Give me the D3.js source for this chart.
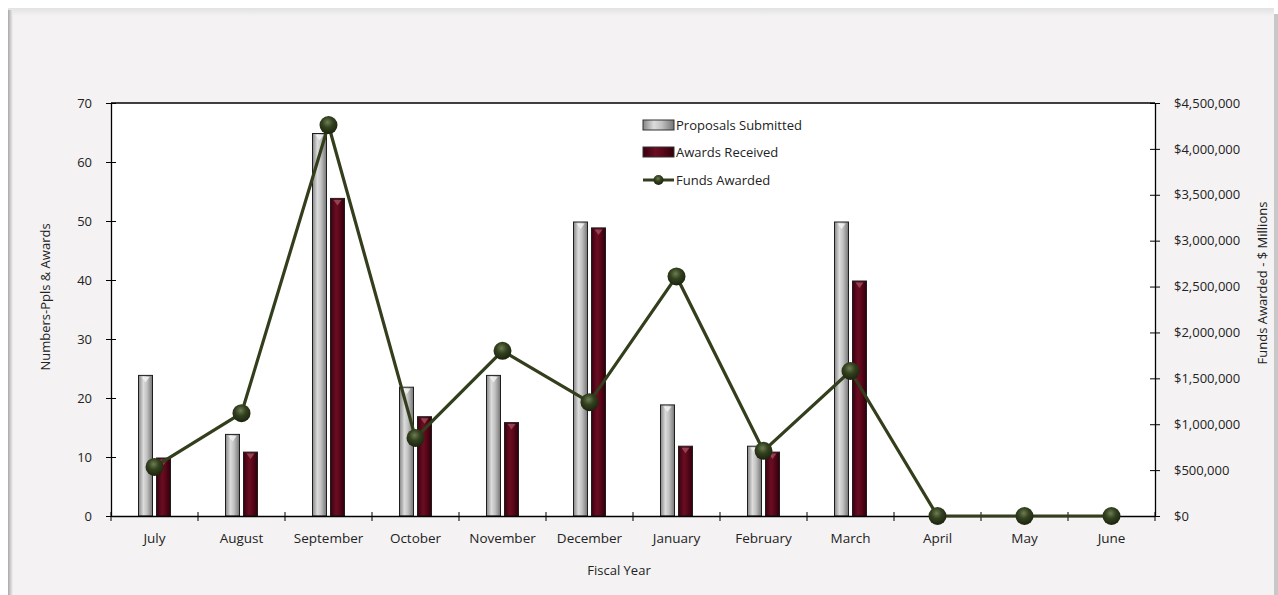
<!DOCTYPE html>
<html>
<head>
<meta charset="utf-8">
<script src="https://cdn.jsdelivr.net/npm/d3@7"></script>
<style>
  body { margin: 0; background: #fff; }
  svg { display: block; font-family: "Open Sans", "Noto Sans", sans-serif; }
  .tick text { font-size: 12.5px; fill: #222; }
</style>
</head>
<body>
<svg id="chart" width="1278" height="595"></svg>
<script>
// data
var months = ['July', 'August', 'September', 'October', 'November', 'December',
              'January', 'February', 'March', 'April', 'May', 'June'];
var proposals = [24, 14, 65, 22, 24, 50, 19, 12, 50, 0, 0, 0];
var awards = [10, 11, 54, 17, 16, 49, 12, 11, 40, 0, 0, 0];
var funds = [535000, 1120000, 4260000, 850000, 1800000, 1240000,
             2610000, 710000, 1580000, 0, 0, 0];
var leftTicks = [0, 10, 20, 30, 40, 50, 60, 70];
var rightTicks = [0, 500000, 1000000, 1500000, 2000000, 2500000,
                  3000000, 3500000, 4000000, 4500000];

var svg = d3.select('#chart');
var defs = svg.append('defs');

// frame / background
var frameGrad = defs.append('linearGradient').attr('id', 'leftEdge');
frameGrad.append('stop').attr('offset', '0%').attr('stop-color', '#a9a9a9');
frameGrad.append('stop').attr('offset', '100%').attr('stop-color', '#f4f2f3');
var topGrad = defs.append('linearGradient').attr('id', 'topEdge')
  .attr('x1', 0).attr('y1', 0).attr('x2', 0).attr('y2', 1);
topGrad.append('stop').attr('offset', '0%').attr('stop-color', '#e2e2e2');
topGrad.append('stop').attr('offset', '100%').attr('stop-color', '#f4f2f3');

svg.append('rect').attr('x', 8).attr('y', 8).attr('width', 1266).attr('height', 587)
  .attr('fill', '#f4f2f3');
svg.append('rect').attr('x', 8).attr('y', 8).attr('width', 1266).attr('height', 8)
  .attr('fill', 'url(#topEdge)');
svg.append('rect').attr('x', 8).attr('y', 10).attr('width', 5).attr('height', 585)
  .attr('fill', 'url(#leftEdge)');
svg.append('rect').attr('x', 1274).attr('y', 14).attr('width', 4).attr('height', 581)
  .attr('fill', '#c8c8c8');

// gradients for the bars and markers
function barGradient(id, stops) {
  var g = defs.append('linearGradient').attr('id', id);
  stops.forEach(function(s) {
    g.append('stop').attr('offset', s[0]).attr('stop-color', s[1]);
  });
}
barGradient('gradGray', [['0%', '#858585'], ['35%', '#dcdcdc'], ['60%', '#c2c2c2'], ['100%', '#757575']]);
barGradient('gradRed', [['0%', '#3a0010'], ['40%', '#6a0e22'], ['65%', '#5a0619'], ['100%', '#2e000b']]);

var ball = defs.append('radialGradient').attr('id', 'gradBall')
  .attr('cx', '45%').attr('cy', '35%').attr('r', '65%');
ball.append('stop').attr('offset', '0%').attr('stop-color', '#6d7d55');
ball.append('stop').attr('offset', '45%').attr('stop-color', '#34421f');
ball.append('stop').attr('offset', '100%').attr('stop-color', '#1a220e');

var plotLeft = 111, plotRight = 1155, plotTop = 103, plotBottom = 516;

var x = d3.scaleBand().domain(months).range([plotLeft, plotRight]).padding(0);
var yL = d3.scaleLinear().domain([0, 70]).range([plotBottom, plotTop]);
var yR = d3.scaleLinear().domain([0, 4500000]).range([plotBottom, plotTop]);

svg.append('rect').attr('x', plotLeft).attr('y', plotTop)
  .attr('width', plotRight - plotLeft).attr('height', plotBottom - plotTop).attr('fill', '#fff');

var barW = 14, gap = 4;

function drawBars(values, offset, fill, tipColor) {
  var items = values.map(function(v, i) { return { m: months[i], v: v }; })
    .filter(function(d) { return d.v > 0; });
  var g = svg.append('g').selectAll('g').data(items).enter().append('g');
  g.append('rect')
    .attr('x', function(d) { return x(d.m) + x.bandwidth() / 2 + offset; })
    .attr('y', function(d) { return yL(d.v) + 1; })
    .attr('width', barW)
    .attr('height', function(d) { return plotBottom - yL(d.v) - 1; })
    .attr('fill', fill)
    .attr('stroke', '#1e1e1e').attr('stroke-width', 1);
  g.append('path')
    .attr('d', function(d) {
      var bx = x(d.m) + x.bandwidth() / 2 + offset, by = yL(d.v) + 1;
      return 'M' + (bx + 3) + ',' + (by + 1.5) + 'L' + (bx + barW - 3) + ',' + (by + 1.5) +
        'L' + (bx + barW / 2) + ',' + (by + 7) + 'Z';
    })
    .attr('fill', tipColor).attr('opacity', 0.8);
}
drawBars(proposals, -barW - gap / 2, 'url(#gradGray)', '#f5f5f5');
drawBars(awards, gap / 2, 'url(#gradRed)', '#a0505e');

// axes
var gx = svg.append('g').attr('transform', 'translate(0,' + plotBottom + ')')
  .call(d3.axisBottom(x).tickSize(0).tickPadding(17));
gx.attr('font-family', null);
gx.select('.domain').attr('stroke', '#000').attr('stroke-width', 1.3);
gx.selectAll('.tick text').style('font-size', '13.5px');
// category boundary ticks
svg.append('g').selectAll('line')
  .data(months.concat(['end']))
  .enter().append('line')
  .attr('x1', function(d, i) { return plotLeft + i * x.bandwidth(); })
  .attr('x2', function(d, i) { return plotLeft + i * x.bandwidth(); })
  .attr('y1', plotBottom - 4).attr('y2', plotBottom + 5)
  .attr('stroke', '#000');

var gl = svg.append('g').attr('transform', 'translate(' + plotLeft + ',0)')
  .call(d3.axisLeft(yL).tickValues(leftTicks).tickSizeInner(5).tickSizeOuter(0).tickPadding(14));
gl.attr('font-family', null);
gl.select('.domain').attr('stroke', '#000').attr('stroke-width', 1.3);
gl.selectAll('.tick line').attr('x2', 5).attr('x1', -5).attr('stroke', '#000');
gl.selectAll('.tick text').style('font-size', '13px');

var gr = svg.append('g').attr('transform', 'translate(' + plotRight + ',0)')
  .call(d3.axisRight(yR).tickValues(rightTicks).tickSizeOuter(0).tickPadding(13)
    .tickFormat(function(d) { return '$' + d3.format(',')(d); }));
gr.attr('font-family', null);
gr.select('.domain').attr('stroke', '#000').attr('stroke-width', 1.3);
gr.selectAll('.tick line').attr('x1', -5).attr('x2', 5).attr('stroke', '#000');
gr.selectAll('.tick text').style('font-size', '13px');

// top border of plot
svg.append('line').attr('x1', plotLeft).attr('x2', plotRight).attr('y1', plotTop).attr('y2', plotTop)
  .attr('stroke', '#000').attr('stroke-width', 1.3);

// funds line
var line = d3.line()
  .x(function(d, i) { return x(months[i]) + x.bandwidth() / 2; })
  .y(function(d) { return yR(d); });
svg.append('path').datum(funds).attr('d', line)
  .attr('fill', 'none').attr('stroke', '#333f1c').attr('stroke-width', 3.2);
svg.append('g').selectAll('circle').data(funds).enter().append('circle')
  .attr('cx', function(d, i) { return x(months[i]) + x.bandwidth() / 2; })
  .attr('cy', function(d) { return yR(d); })
  .attr('r', 9)
  .attr('fill', 'url(#gradBall)');

// axis titles
svg.append('text').attr('transform', 'translate(50,297) rotate(-90)')
  .attr('text-anchor', 'middle').style('font-size', '13px').attr('fill', '#222')
  .text('Numbers-Ppls & Awards');
svg.append('text').attr('transform', 'translate(1267,283) rotate(-90)')
  .attr('text-anchor', 'middle').style('font-size', '13px').attr('fill', '#222')
  .text('Funds Awarded - $ Millions');
svg.append('text').attr('x', 619).attr('y', 575)
  .attr('text-anchor', 'middle').style('font-size', '13px').attr('fill', '#222')
  .text('Fiscal Year');

// legend
var legend = svg.append('g').attr('transform', 'translate(643,125)');
legend.append('rect').attr('x', 0).attr('y', -5).attr('width', 31).attr('height', 10)
  .attr('fill', 'url(#gradGray)').attr('stroke', '#333');
legend.append('rect').attr('x', 0).attr('y', 22).attr('width', 31).attr('height', 10)
  .attr('fill', 'url(#gradRed)').attr('stroke', '#333');
legend.append('line').attr('x1', 0).attr('x2', 31).attr('y1', 55).attr('y2', 55)
  .attr('stroke', '#333f1c').attr('stroke-width', 3);
legend.append('circle').attr('cx', 15.5).attr('cy', 55).attr('r', 5).attr('fill', 'url(#gradBall)');
['Proposals Submitted', 'Awards Received', 'Funds Awarded'].forEach(function(t, i) {
  legend.append('text').attr('x', 33).attr('y', i * 27.5 + 4.5)
    .style('font-size', '13px').attr('fill', '#222').text(t);
});
</script>
</body>
</html>
